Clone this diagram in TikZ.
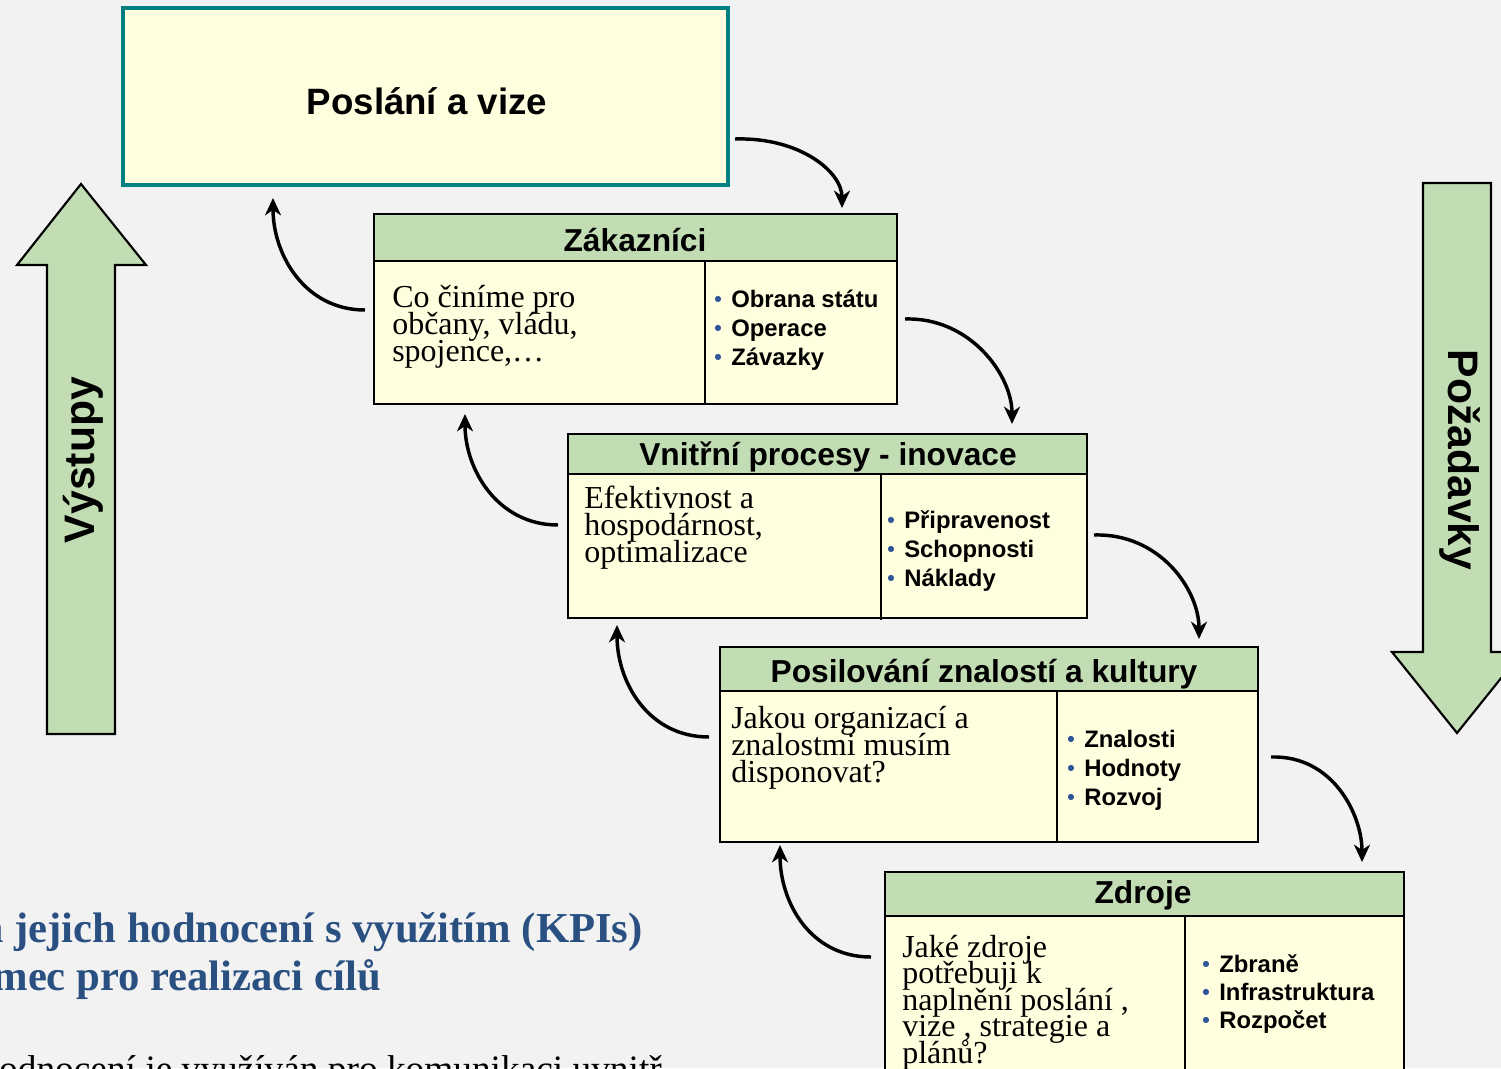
\documentclass[tikz,border=0pt]{standalone}
\usepackage{fontspec}
\setmainfont{Liberation Serif}
\setsansfont{Liberation Sans}
\usetikzlibrary{arrows.meta}
\definecolor{bg}{HTML}{F2F2F2}
\definecolor{boxfill}{HTML}{FFFFDF}
\definecolor{hdr}{HTML}{C2DDB3}
\definecolor{tealb}{HTML}{008080}
\definecolor{bblue}{HTML}{2F5597}
\definecolor{tblue}{HTML}{2A5082}
\newcommand{\bul}[1]{\hbox{\makebox[12.75pt][l]{\textcolor{bblue}{\fontsize{16}{16}\selectfont\raisebox{0.5pt}{•}}}#1}}
\newcommand{\lin}[1]{\hbox{#1}}
\tikzset{
  boxbody/.style={draw=black, line width=2pt, fill=boxfill},
  boxhdr/.style={draw=black, line width=2pt, fill=hdr},
  divline/.style={draw=black, line width=2pt},
  htext/.style={font={\sffamily\bfseries\fontsize{23.8}{28}\selectfont}, anchor=base, inner sep=0},
  ltext/.style={font={\rmfamily\fontsize{24}{20.25}\selectfont\lineskiplimit=-50pt}, anchor=base west, inner sep=0},
  btext/.style={font={\sffamily\bfseries\fontsize{17.9}{21.75}\selectfont\lineskiplimit=-50pt}, anchor=base west, inner sep=0},
  conn/.style={line width=2.6pt, -{Stealth[length=13pt,width=12pt,inset=4pt]}},
  bigarrow/.style={draw=black, line width=1.6pt, fill=hdr, line join=miter},
  bigtext/.style={font={\sffamily\bfseries\fontsize{32}{36}\selectfont}, inner sep=0},
}
\begin{document}
\begin{tikzpicture}[x=0.75pt,y=-0.75pt]
\useasboundingbox (0,0) rectangle (1501,1068);
\clip (0,0) rectangle (1501,1068);
\fill[bg] (0,0) rectangle (1501,1068);

% big arrows
\draw[bigarrow] (47,734) -- (47,265) -- (17,265) -- (81,184) -- (146,265) -- (115,265) -- (115,734) -- cycle;
\node[bigtext, rotate=90] (vys) at (83,460) {Výstupy};
\draw[bigarrow] (1423,183) -- (1491,183) -- (1491,652) -- (1522,652) -- (1457,733) -- (1392,652) -- (1423,652) -- cycle;
\node[bigtext, rotate=-90] (poz) at (1460,460) {Požadavky};

% Poslani a vize
\draw[draw=tealb, line width=3.6pt, fill=boxfill] (123,8) rectangle (728,185);
\node[font={\sffamily\bfseries\fontsize{27.5}{32}\selectfont}, anchor=base, inner sep=0] (pos) at (427,114) {Poslání a vize};

% Zakaznici
\draw[boxbody] (374,261) rectangle (897,404);
\draw[boxhdr] (374,214) rectangle (897,261);
\draw[divline] (705,261) -- (705,404);
\node[htext] (zakh) at (635,251) {Zákazníci};
\node[ltext] (zakl) at (392,307) {\vtop{\lin{Co činíme pro}\lin{občany, vládu,}\lin{spojence,…}}};
\node[btext] (zakb) at (714,307) {\vtop{\bul{Obrana státu}\bul{Operace}\bul{Závazky}}};

% Vnitrni procesy
\draw[boxbody] (568,474) rectangle (1087,618);
\draw[boxhdr] (568,434) rectangle (1087,474);
\draw[divline] (881,474) -- (881,620);
\node[htext] (vnih) at (828,465) {Vnitřní procesy - inovace};
\node[ltext] (vnil) at (584,508) {\vtop{\lin{Efektivnost a}\lin{hospodárnost,}\lin{optimalizace}}};
\node[btext] (vnib) at (887,528) {\vtop{\bul{Připravenost}\bul{Schopnosti}\bul{Náklady}}};

% Posilovani
\draw[boxbody] (720,691) rectangle (1258,842);
\draw[boxhdr] (720,647) rectangle (1258,691);
\draw[divline] (1057,691) -- (1057,842);
\node[htext] (posh) at (984,682) {Posilování znalostí a kultury};
\node[ltext] (posl) at (731,728) {\vtop{\lin{Jakou organizací a}\lin{znalostmi musím}\lin{disponovat?}}};
\node[btext] (posb) at (1067,747) {\vtop{\bul{Znalosti}\bul{Hodnoty}\bul{Rozvoj}}};

% Zdroje
\draw[boxbody] (885,916) rectangle (1404,1090);
\draw[boxhdr] (885,872) rectangle (1404,916);
\draw[divline] (1185,916) -- (1185,1090);
\node[htext] (zdrh) at (1143,903) {Zdroje};
\node[ltext, font={\rmfamily\fontsize{24}{19.9}\selectfont\lineskiplimit=-50pt}] (zdrl) at (902,957) {\vtop{\lin{Jaké zdroje}\lin{potřebuji k}\lin{naplnění poslání ,}\lin{vize , strategie a}\lin{plánů?}}};
\node[btext, font={\sffamily\bfseries\fontsize{17.9}{21}\selectfont\lineskiplimit=-50pt}] (zdrb) at (1202,972) {\vtop{\bul{Zbraně}\bul{Infrastruktura}\bul{Rozpočet}}};

% connector end points
\coordinate (a1s) at (735,139); \coordinate (a1e) at (842,208);
\coordinate (a2s) at (365,310); \coordinate (a2e) at (273,198);
\coordinate (a3s) at (905,319); \coordinate (a3e) at (1012,424);
\coordinate (a4s) at (558,525); \coordinate (a4e) at (465,414);
\coordinate (a5s) at (1094,535); \coordinate (a5e) at (1199,639);
\coordinate (a6s) at (709,737); \coordinate (a6e) at (617,625);
\coordinate (a7s) at (1271,757); \coordinate (a7e) at (1362,862);
\coordinate (a8s) at (871,957); \coordinate (a8e) at (780,845);

\draw[conn] (a1s) .. controls (800,137) and (842,172) .. (a1e);
\draw[conn] (a2s) .. controls (305,310) and (273,255) .. (a2e);
\draw[conn] (a3s) .. controls (970,317) and (1012,375) .. (a3e);
\draw[conn] (a4s) .. controls (498,525) and (465,470) .. (a4e);
\draw[conn] (a5s) .. controls (1160,533) and (1199,590) .. (a5e);
\draw[conn] (a6s) .. controls (648,737) and (617,682) .. (a6e);
\draw[conn] (a7s) .. controls (1333,755) and (1362,815) .. (a7e);
\draw[conn] (a8s) .. controls (810,957) and (780,902) .. (a8e);

% bottom-left text
\node[anchor=base east, inner sep=0, text=tblue, font={\rmfamily\bfseries\fontsize{32}{36}\selectfont}] (t1) at (643,942) {a jejich hodnocení s využitím (KPIs)};
\node[anchor=base east, inner sep=0, text=tblue, font={\rmfamily\bfseries\fontsize{32}{36}\selectfont}] (t2) at (381,990) {rámec pro realizaci cílů};
\node[anchor=base east, inner sep=0, font={\rmfamily\fontsize{28}{32}\selectfont}] (t3) at (662,1081) {hodnocení je využíván pro komunikaci uvnitř};
\end{tikzpicture}
\end{document}
